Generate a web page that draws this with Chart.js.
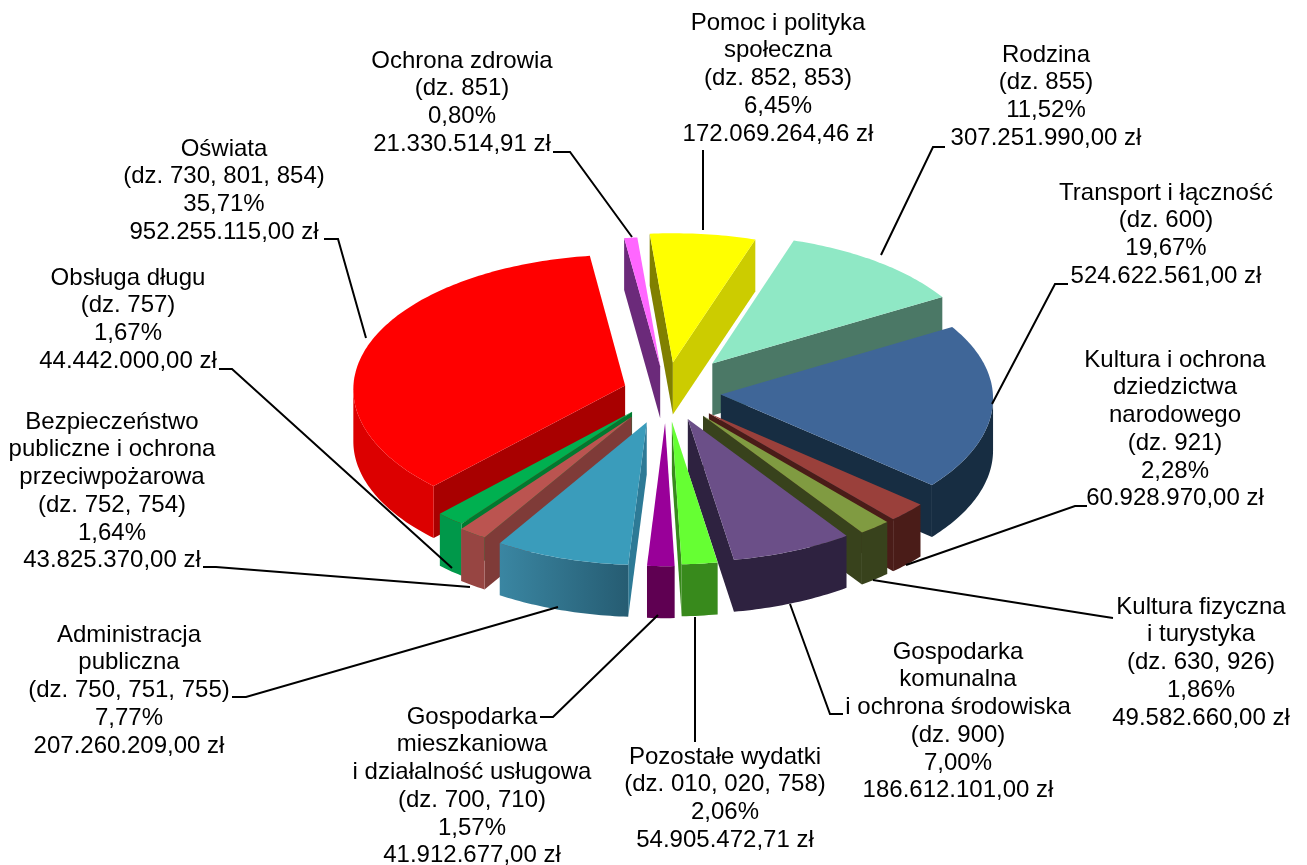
<!DOCTYPE html>
<html>
<head>
<meta charset="utf-8">
<script src="https://cdn.jsdelivr.net/npm/chart.js@4/dist/chart.umd.js"></script>
<style>
  html, body { margin: 0; padding: 0; background: #fff; }
  canvas { display: block; }
</style>
</head>
<body>
<canvas id="budgetPie" width="1307" height="865"></canvas>
<script>
const categories = [
  'Pomoc i polityka społeczna', 'Rodzina', 'Transport i łączność',
  'Kultura i ochrona dziedzictwa narodowego', 'Kultura fizyczna i turystyka',
  'Gospodarka komunalna i ochrona środowiska', 'Pozostałe wydatki',
  'Gospodarka mieszkaniowa i działalność usługowa', 'Administracja publiczna',
  'Bezpieczeństwo publiczne i ochrona przeciwpożarowa', 'Obsługa długu',
  'Oświata', 'Ochrona zdrowia'
];
const amounts = [
  172069264.46, 307251990.00, 524622561.00, 60928970.00, 49582660.00,
  186612101.00, 54905472.71, 41912677.00, 207260209.00, 43825370.00,
  44442000.00, 952255115.00, 21330514.91
];
const labelLines = [
  ['Pomoc i polityka', 'społeczna', '(dz. 852, 853)', '6,45%', '172.069.264,46 zł'],
  ['Rodzina', '(dz. 855)', '11,52%', '307.251.990,00 zł'],
  ['Transport i łączność', '(dz. 600)', '19,67%', '524.622.561,00 zł'],
  ['Kultura i ochrona', 'dziedzictwa', 'narodowego', '(dz. 921)', '2,28%', '60.928.970,00 zł'],
  ['Kultura fizyczna', 'i turystyka', '(dz. 630, 926)', '1,86%', '49.582.660,00 zł'],
  ['Gospodarka', 'komunalna', 'i ochrona środowiska', '(dz. 900)', '7,00%', '186.612.101,00 zł'],
  ['Pozostałe wydatki', '(dz. 010, 020, 758)', '2,06%', '54.905.472,71 zł'],
  ['Gospodarka', 'mieszkaniowa', 'i działalność usługowa', '(dz. 700, 710)', '1,57%', '41.912.677,00 zł'],
  ['Administracja', 'publiczna', '(dz. 750, 751, 755)', '7,77%', '207.260.209,00 zł'],
  ['Bezpieczeństwo', 'publiczne i ochrona', 'przeciwpożarowa', '(dz. 752, 754)', '1,64%', '43.825.370,00 zł'],
  ['Obsługa długu', '(dz. 757)', '1,67%', '44.442.000,00 zł'],
  ['Oświata', '(dz. 730, 801, 854)', '35,71%', '952.255.115,00 zł'],
  ['Ochrona zdrowia', '(dz. 851)', '0,80%', '21.330.514,91 zł']
];

// styles
const topColors = ['#FFFF00', '#8FE8C5', '#3F6698', '#9A403B', '#809B41', '#6B4F88', '#66FF33', '#990099', '#3A9CBB', '#BB5450', '#00B050', '#FF0000', '#FF66FF'];
const outerWallColors = [
  ['#CCCC00', '#CCCC00'], ['#4B7866', '#4B7866'], ['#172D42', '#172D42'], ['#4A1C18', '#4A1C18'],
  ['#38421C', '#38421C'], ['#2E2240', '#2E2240'], ['#388A1C', '#388A1C'], ['#5F0052', '#5F0052'],
  ['#265C72', '#3A86A2'], ['#974542', '#974542'], ['#00984A', '#00984A'], ['#DC0000', '#DC0000'], ['#6B2A7A', '#6B2A7A']
];
const sideWallColors = ['#808000', '#4B7866', '#172D42', '#4A1C18', '#38421C', '#2E2240', '#2C6A16', '#5F0052', '#2D7A96', '#7F3B38', '#007A30', '#A80000', '#6B2A7A'];
const endWallColors = ['#CCCC00', '#4B7866', '#172D42', '#4A1C18', '#38421C', '#2E2240', '#388A1C', '#5F0052', '#2D7A96', '#7F3B38', '#007A30', '#A80000', '#6B2A7A'];
const sliceOffsets = [60, 74, 55, 60, 60, 58, 59, 62, 63, 60, 52, 43, 52];

// where the texts and their leader lines sit: [center x, first line y]
const labelAnchors = [[778, 23], [1046, 55], [1166, 193], [1175, 360], [1201, 607], [958, 652], [725, 757], [472, 717], [129, 635], [112, 422], [128, 278], [224, 149], [462, 61]];
const leaderLines = [
  [[703, 150], [703, 230]],
  [[945, 147], [933, 147], [881, 255]],
  [[1068, 284], [1055, 284], [992, 404]],
  [[1087, 506], [1075, 506], [906, 565]],
  [[1113, 618], [1100, 616], [873, 580]],
  [[843, 714], [830, 714], [790, 604]],
  [[695, 617], [695, 742]],
  [[540, 717], [553, 717], [658, 615]],
  [[232, 697], [246, 697], [558, 607]],
  [[203, 567], [216, 567], [470, 587]],
  [[219, 369], [232, 369], [452, 568]],
  [[324, 239], [338, 239], [366, 338]],
  [[553, 152], [570, 152], [632, 237]]
];

const tilt = 0.5;
const persp = 0.035;
const perspX = 0.025;
const depth = 52;
const lineHeight = 27.75;

function project(arc, dx, dy) {
  const r = dy / arc.outerRadius;
  return { x: arc.x + dx * (1 + perspX * r), y: arc.y + dy * tilt * (1 + persp * r) };
}

function fillPoly(ctx, pts, style) {
  ctx.beginPath();
  pts.forEach((p, i) => i ? ctx.lineTo(p.x, p.y) : ctx.moveTo(p.x, p.y));
  ctx.closePath();
  ctx.fillStyle = style;
  ctx.fill();
}

function wall(ctx, a, b, style) {
  fillPoly(ctx, [a, b, { x: b.x, y: b.y + depth }, { x: a.x, y: a.y + depth }], style);
}

function drawSlice(ctx, arc, i) {
  const mid = (arc.startAngle + arc.endAngle) / 2;
  const off = arc.options.offset;
  const ox = off * Math.cos(mid);
  const oy = off * Math.sin(mid);
  const tip = project(arc, ox, oy);
  const steps = Math.max(4, Math.ceil((arc.endAngle - arc.startAngle) * 60));
  const rim = [];
  for (let s = 0; s <= steps; s++) {
    const a = arc.startAngle + (arc.endAngle - arc.startAngle) * s / steps;
    rim.push(project(arc, ox + arc.outerRadius * Math.cos(a), oy + arc.outerRadius * Math.sin(a)));
  }
  const first = rim[0];
  const last = rim[rim.length - 1];

  // only the faces turned to the viewer are painted
  if (first.x < tip.x) wall(ctx, tip, first, sideWallColors[i]);
  if (tip.x < last.x) wall(ctx, last, tip, endWallColors[i]);

  const front = [];
  for (let s = 0; s < steps; s++) {
    if (rim[s + 1].x < rim[s].x) {
      if (!front.length) front.push(rim[s]);
      front.push(rim[s + 1]);
    }
  }
  if (front.length) {
    const g = ctx.createLinearGradient(front[0].x, 0, front[front.length - 1].x, 0);
    g.addColorStop(0, outerWallColors[i][0]);
    g.addColorStop(1, outerWallColors[i][1]);
    const shifted = front.map(p => ({ x: p.x, y: p.y + depth })).reverse();
    fillPoly(ctx, front.concat(shifted), g);
  }
  fillPoly(ctx, [tip].concat(rim), arc.options.backgroundColor);
}

const pie3d = {
  id: 'pie3d',
  beforeDatasetDraw(chart, args) {
    const { ctx } = chart;
    const arcs = chart.getDatasetMeta(args.index).data;
    const order = arcs.map((a, i) => i).sort((p, q) => {
      const m = k => Math.sin((arcs[k].startAngle + arcs[k].endAngle) / 2);
      return m(p) - m(q);
    });
    order.forEach(i => drawSlice(ctx, arcs[i], i));
    return false;
  },
  afterDraw(chart) {
    const { ctx } = chart;
    ctx.save();
    ctx.strokeStyle = '#000';
    ctx.lineWidth = 2;
    leaderLines.forEach(line => {
      ctx.beginPath();
      line.forEach((p, i) => i ? ctx.lineTo(p[0], p[1]) : ctx.moveTo(p[0], p[1]));
      ctx.stroke();
    });
    ctx.fillStyle = '#000';
    ctx.font = '24px "Liberation Sans"';
    ctx.textAlign = 'center';
    ctx.textBaseline = 'middle';
    labelLines.forEach((lines, i) => {
      lines.forEach((text, n) => {
        ctx.fillText(text, labelAnchors[i][0], labelAnchors[i][1] + n * lineHeight);
      });
    });
    ctx.restore();
  }
};

new Chart(document.getElementById('budgetPie'), {
  type: 'pie',
  data: {
    labels: categories,
    datasets: [{
      data: amounts,
      backgroundColor: topColors,
      offset: sliceOffsets,
      borderWidth: 0
    }]
  },
  options: {
    responsive: false,
    animation: false,
    rotation: -5,
    radius: 272,
    layout: { padding: { left: 25, bottom: 81 } },
    plugins: {
      legend: { display: false },
      tooltip: { enabled: false }
    }
  },
  plugins: [pie3d]
});
</script>
</body>
</html>
